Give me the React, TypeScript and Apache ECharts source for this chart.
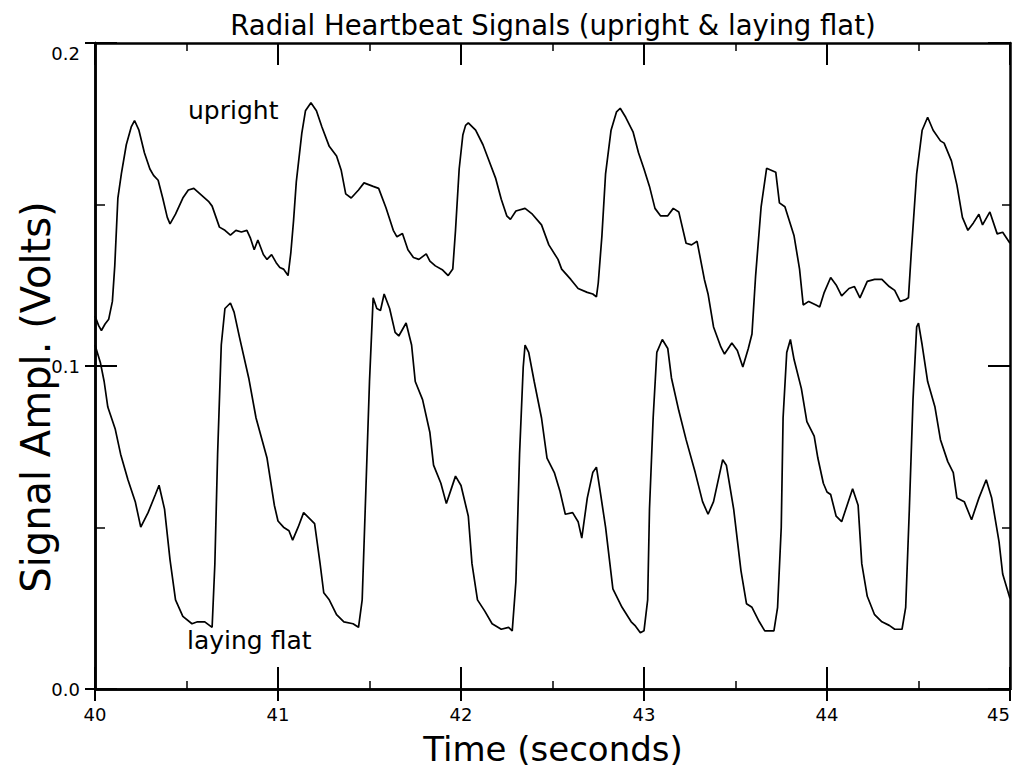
import React, { useEffect, useRef } from "react";
import * as echarts from "echarts";

const xTicks = [40, 41, 42, 43, 44, 45];
const yTicks = [0.0, 0.1, 0.2];

const uprightTime = [
  40.0, 40.02, 40.035, 40.055, 40.075, 40.095, 40.108, 40.125, 40.144, 40.171, 40.198, 40.216, 40.24, 40.27, 40.3, 40.32,
  40.345, 40.37, 40.395, 40.41, 40.44, 40.48, 40.51, 40.54, 40.58, 40.62, 40.64, 40.68, 40.71, 40.74, 40.77, 40.8,
  40.83, 40.85, 40.87, 40.89, 40.92, 40.94, 40.965, 40.99, 41.01, 41.03, 41.055, 41.07, 41.085, 41.1, 41.13, 41.15,
  41.18, 41.21, 41.24, 41.28, 41.32, 41.345, 41.37, 41.4, 41.44, 41.47, 41.52, 41.55, 41.59, 41.63, 41.65, 41.68,
  41.71, 41.74, 41.77, 41.81, 41.83, 41.86, 41.9, 41.93, 41.955, 41.97, 41.99, 42.01, 42.025, 42.04, 42.08, 42.12,
  42.15, 42.19, 42.22, 42.25, 42.27, 42.3, 42.35, 42.39, 42.44, 42.48, 42.53, 42.55, 42.6, 42.64, 42.69, 42.72,
  42.74, 42.75, 42.77, 42.79, 42.82, 42.85, 42.87, 42.9, 42.94, 42.97, 43.0, 43.03, 43.06, 43.09, 43.13, 43.16,
  43.19, 43.23, 43.26, 43.29, 43.33, 43.35, 43.38, 43.42, 43.44, 43.48, 43.51, 43.54, 43.57, 43.59, 43.61, 43.64,
  43.67, 43.72, 43.74, 43.77, 43.82, 43.85, 43.87, 43.9, 43.94, 43.96, 43.985, 44.02, 44.05, 44.08, 44.12, 44.15,
  44.18, 44.22, 44.26, 44.3, 44.34, 44.37, 44.4, 44.43, 44.445, 44.46, 44.49, 44.52, 44.55, 44.58, 44.62, 44.64,
  44.68, 44.71, 44.74, 44.77, 44.8, 44.83, 44.85, 44.89, 44.93, 44.96, 45.0,
];
const uprightVolts = [
  0.1155, 0.1125, 0.111, 0.113, 0.1145, 0.12, 0.131, 0.152, 0.1595, 0.1685, 0.174, 0.176, 0.173, 0.166, 0.161, 0.159,
  0.1575, 0.152, 0.146, 0.144, 0.147, 0.152, 0.1545, 0.155, 0.153, 0.151, 0.1495, 0.143, 0.142, 0.1405, 0.142, 0.1415,
  0.142, 0.1395, 0.136, 0.139, 0.1345, 0.133, 0.1345, 0.132, 0.1305, 0.13, 0.128, 0.135, 0.145, 0.157, 0.172, 0.179,
  0.1815, 0.179, 0.174, 0.168, 0.165, 0.1607, 0.1533, 0.152, 0.1545, 0.1567, 0.1556, 0.155, 0.149, 0.142, 0.14, 0.141,
  0.136, 0.1336, 0.133, 0.1347, 0.1325, 0.131, 0.1297, 0.128, 0.13, 0.142, 0.161, 0.1715, 0.1745, 0.1753, 0.173, 0.1685,
  0.164, 0.158, 0.1516, 0.1465, 0.1454, 0.148, 0.1488, 0.147, 0.1437, 0.1375, 0.133, 0.13, 0.1268, 0.124, 0.1228, 0.1223,
  0.1214, 0.1257, 0.1403, 0.1595, 0.173, 0.1787, 0.1798, 0.177, 0.1725, 0.166, 0.161, 0.1556, 0.1488, 0.1465, 0.1465, 0.1488,
  0.1477, 0.138, 0.1375, 0.1386, 0.1268, 0.1223, 0.1121, 0.1059, 0.1037, 0.1071, 0.1048, 0.0997, 0.1054, 0.1099, 0.128, 0.1493,
  0.1612, 0.16, 0.1505, 0.1493, 0.1403, 0.13, 0.1189, 0.12, 0.1189, 0.1183, 0.1228, 0.1274, 0.1251, 0.1217, 0.124, 0.1246,
  0.1211, 0.1262, 0.1268, 0.1268, 0.1246, 0.1234, 0.12, 0.1206, 0.1211, 0.1347, 0.1595, 0.173, 0.177, 0.173, 0.1697, 0.169,
  0.1635, 0.156, 0.146, 0.142, 0.1443, 0.147, 0.1437, 0.1477, 0.1409, 0.1414, 0.138,
];

const flatTime = [
  40.0, 40.03, 40.05, 40.07, 40.11, 40.14, 40.18, 40.22, 40.25, 40.29, 40.33, 40.35, 40.38, 40.41, 40.44, 40.48,
  40.53, 40.56, 40.6, 40.64, 40.655, 40.67, 40.69, 40.71, 40.74, 40.76, 40.79, 40.84, 40.88, 40.94, 40.98, 41.0,
  41.03, 41.06, 41.08, 41.11, 41.14, 41.17, 41.2, 41.23, 41.25, 41.28, 41.32, 41.36, 41.41, 41.44, 41.46, 41.48,
  41.5, 41.52, 41.54, 41.56, 41.58, 41.61, 41.64, 41.66, 41.7, 41.73, 41.75, 41.79, 41.83, 41.85, 41.89, 41.92,
  41.95, 41.97, 42.0, 42.04, 42.06, 42.09, 42.13, 42.17, 42.22, 42.26, 42.28, 42.3, 42.32, 42.34, 42.35, 42.37,
  42.4, 42.44, 42.47, 42.51, 42.54, 42.57, 42.61, 42.64, 42.66, 42.69, 42.72, 42.74, 42.76, 42.79, 42.83, 42.88,
  42.93, 42.95, 42.98, 43.0, 43.02, 43.03, 43.05, 43.07, 43.1, 43.13, 43.15, 43.19, 43.23, 43.28, 43.32, 43.35,
  43.38, 43.43, 43.45, 43.49, 43.53, 43.56, 43.59, 43.63, 43.66, 43.71, 43.73, 43.75, 43.76, 43.78, 43.8, 43.82,
  43.86, 43.89, 43.93, 43.95, 43.98, 44.0, 44.02, 44.05, 44.08, 44.11, 44.14, 44.17, 44.19, 44.22, 44.26, 44.3,
  44.34, 44.37, 44.41, 44.43, 44.45, 44.47, 44.49, 44.5, 44.52, 44.55, 44.59, 44.62, 44.66, 44.69, 44.71, 44.75,
  44.79, 44.83, 44.87, 44.9, 44.94, 44.96, 45.0,
];
const flatVolts = [
  0.1065, 0.1009, 0.0952, 0.0873, 0.0806, 0.0727, 0.0648, 0.058, 0.0501, 0.0546, 0.0602, 0.0631, 0.0557, 0.04, 0.0276, 0.0225,
  0.0202, 0.0208, 0.0208, 0.0191, 0.0388, 0.0727, 0.1065, 0.1178, 0.1195, 0.1167, 0.1088, 0.0963, 0.0839, 0.0715, 0.0569, 0.052,
  0.0501, 0.049, 0.0461, 0.0501, 0.0546, 0.0529, 0.0512, 0.0388, 0.0298, 0.0276, 0.023, 0.0208, 0.0202, 0.0191, 0.0276, 0.0614,
  0.0952, 0.1211, 0.1178, 0.1172, 0.1223, 0.1178, 0.1104, 0.1093, 0.1133, 0.1065, 0.0952, 0.0896, 0.0794, 0.0693, 0.0637, 0.0574,
  0.0625, 0.0659, 0.063, 0.0535, 0.0388, 0.0276, 0.0241, 0.0202, 0.0185, 0.0191, 0.018, 0.0332, 0.0727, 0.0997, 0.1065, 0.1042,
  0.0952, 0.0839, 0.0715, 0.067, 0.0614, 0.0541, 0.0546, 0.0518, 0.0467, 0.0591, 0.067, 0.0687, 0.0614, 0.0501, 0.031, 0.0253,
  0.0208, 0.0197, 0.0174, 0.018, 0.0276, 0.0557, 0.0839, 0.1042, 0.1082, 0.1054, 0.0963, 0.0862, 0.0772, 0.067, 0.058, 0.0541,
  0.058, 0.071, 0.0693, 0.0557, 0.0366, 0.0264, 0.0253, 0.0208, 0.018, 0.018, 0.0253, 0.0501, 0.0839, 0.1042, 0.1082, 0.102,
  0.093, 0.0828, 0.0783, 0.0715, 0.0637, 0.061, 0.0602, 0.0535, 0.0518, 0.0569, 0.062, 0.0569, 0.0388, 0.0287, 0.023, 0.0208,
  0.0197, 0.0185, 0.0185, 0.0253, 0.0557, 0.0896, 0.1121, 0.1133, 0.1065, 0.0952, 0.0873, 0.0772, 0.0704, 0.067, 0.0591, 0.058,
  0.0524, 0.0591, 0.0648, 0.0591, 0.0456, 0.0356, 0.028,
];

const titleText = "Radial Heartbeat Signals (upright & laying flat)";
const xName = "Time (seconds)";
const yName = "Signal Ampl. (Volts)";
const uprightLabel = "upright";
const flatLabel = "laying flat";

const FONT = "'DejaVu Sans', sans-serif";

export default function App() {
  const ref = useRef<HTMLDivElement>(null);
  useEffect(() => {
    if (!ref.current) return;
    const chart = echarts.init(ref.current, undefined, { renderer: "svg" });
    const zip = (t: number[], v: number[]) => t.map((x, i) => [x, v[i]]);
    const axisLineStyle = { color: "#000", width: 2.5 };
    const tickStyle = { color: "#000", width: 2 };
    const minorStyle = { color: "#000", width: 1.5 };
    const gridBox = { left: 95, right: 4, top: 43, bottom: 89, containLabel: false };
    const mkX = (gridIndex: number, position: string, extra: any) => ({
      type: "value",
      gridIndex,
      position,
      min: xTicks[0],
      max: xTicks[xTicks.length - 1],
      interval: 1,
      splitLine: { show: false },
      axisLine: { show: true, onZero: false, lineStyle: axisLineStyle },
      axisLabel: { show: false },
      ...extra,
    });
    const mkY = (gridIndex: number, position: string, extra: any) => ({
      type: "value",
      gridIndex,
      position,
      min: yTicks[0],
      max: yTicks[yTicks.length - 1],
      interval: 0.1,
      splitLine: { show: false },
      axisLine: { show: true, onZero: false, lineStyle: axisLineStyle },
      axisLabel: { show: false },
      ...extra,
    });
    chart.setOption({
      animation: false,
      backgroundColor: "#fff",
      grid: [gridBox, gridBox, gridBox],
      xAxis: [
        mkX(0, "bottom", {
          axisTick: { show: true, inside: true, length: 22, lineStyle: tickStyle },
          minorTick: { show: true, splitNumber: 2, length: 8, lineStyle: minorStyle },
          axisLabel: {
            show: true,
            color: "#000",
            fontSize: 18,
            fontFamily: FONT,
            margin: 16,
            alignMaxLabel: "right",
            formatter: (v: number) => String(Math.round(v)),
          },
        }),
        mkX(1, "top", {
          axisTick: { show: true, inside: true, length: 22, lineStyle: tickStyle },
          minorTick: { show: true, splitNumber: 2, length: 8, lineStyle: minorStyle },
        }),
        mkX(2, "bottom", {
          axisTick: { show: true, inside: false, length: 12, lineStyle: tickStyle },
        }),
      ],
      yAxis: [
        mkY(0, "left", {
          axisTick: { show: true, inside: true, length: 22, lineStyle: tickStyle },
          minorTick: { show: true, splitNumber: 2, length: 10, lineStyle: minorStyle },
          axisLabel: {
            show: true,
            color: "#000",
            fontSize: 18,
            fontFamily: FONT,
            margin: 15,
            formatter: (v: number) => (v > 0.15 ? "{low|" + v.toFixed(1) + "}" : v.toFixed(1)),
            rich: { low: { fontSize: 18, fontFamily: FONT, color: "#000", padding: [20, 0, 0, 0] } },
          },
        }),
        mkY(1, "right", {
          axisTick: { show: true, inside: true, length: 22, lineStyle: tickStyle },
          minorTick: { show: true, splitNumber: 2, length: 8, lineStyle: minorStyle },
        }),
        mkY(2, "left", {
          axisTick: { show: true, inside: false, length: 10, lineStyle: tickStyle },
        }),
      ],
      series: [
        {
          name: uprightLabel,
          type: "line",
          xAxisIndex: 0,
          yAxisIndex: 0,
          data: zip(uprightTime, uprightVolts),
          showSymbol: false,
          symbol: "none",
          lineStyle: { color: "#000", width: 1.7 },
        },
        {
          name: flatLabel,
          type: "line",
          xAxisIndex: 0,
          yAxisIndex: 0,
          data: zip(flatTime, flatVolts),
          showSymbol: false,
          symbol: "none",
          lineStyle: { color: "#000", width: 1.7 },
        },
      ],
      graphic: [
        {
          type: "text",
          x: 553,
          y: 25,
          style: { text: titleText, fill: "#000", font: `27.5px ${FONT}`, textAlign: "center", textVerticalAlign: "middle" },
        },
        {
          type: "text",
          x: 553,
          y: 749,
          style: { text: xName, fill: "#000", font: `34px ${FONT}`, textAlign: "center", textVerticalAlign: "middle" },
        },
        {
          type: "text",
          x: 36,
          y: 397,
          rotation: Math.PI / 2,
          style: { text: yName, fill: "#000", font: `40px ${FONT}`, textAlign: "center", textVerticalAlign: "middle" },
        },
        {
          type: "text",
          x: 188,
          y: 110,
          style: { text: uprightLabel, fill: "#000", font: `25px ${FONT}`, textAlign: "left", textVerticalAlign: "middle" },
        },
        {
          type: "text",
          x: 187,
          y: 640,
          style: { text: flatLabel, fill: "#000", font: `25px ${FONT}`, textAlign: "left", textVerticalAlign: "middle" },
        },
      ],
    });
    return () => chart.dispose();
  }, []);
  return <div ref={ref} style={{ position: "fixed", left: 0, top: 0, width: 1014, height: 778 }} />;
}
